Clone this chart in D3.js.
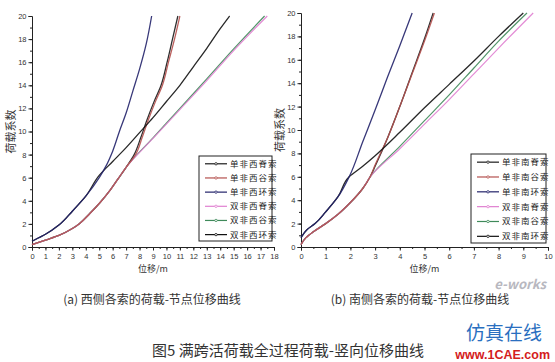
<!DOCTYPE html>
<html lang="zh">
<head>
<meta charset="UTF-8" />
<title>满跨活荷载全过程荷载-竖向位移曲线</title>
<style>
  body { margin: 0; padding: 0; background: #fff; }
  svg { display: block; font-family: "Noto Sans CJK SC", "DejaVu Sans", sans-serif; }
  .tick text { font-family: "Liberation Sans Narrow", "Liberation Sans", Arial, sans-serif; fill: #333; }
</style>
<script src="https://d3js.org/d3.v7.min.js"></script>
</head>
<body>
<svg width="555" height="362"></svg>
<script>
  // series colours, shared by both panels (legend order)
  const seriesColors = ["#1a1a1a", "#b4504e", "#22226a", "#e07fd0", "#3f8a5a", "#111111"];

  // (a) west cables
  const westNames = ["单非西脊索", "单非西谷索", "单非西环索", "双非西脊索", "双非西谷索", "双非西环索"];
  const westSpineSingle = [[0,0.2],[1,0.6],[2,1],[3,1.6],[3.5,2],[4.3,2.9],[5.1,3.9],[5.8,4.9],[6.4,5.9],[7,6.9],[7.6,8],[8.1,9.5],[8.55,11],[9.05,12.5],[9.6,14],[10.05,16],[10.45,18],[10.85,20]];
  const westValleySingle = [[0,0.2],[1,0.6],[2,1],[3,1.6],[3.5,2],[4.3,2.9],[5.1,3.9],[5.8,4.9],[6.4,5.9],[7,6.9],[7.7,8],[8.2,9.5],[8.65,11],[9.15,12.5],[9.7,14],[10.15,16],[10.6,18],[11,20]];
  const westRingSingle = [[0,0.5],[0.5,0.8],[1,1.1],[2,1.9],[3,3.1],[4,4.4],[5,6],[5.5,7],[6,8.3],[6.5,10],[7,11.6],[7.5,13.5],[8,15.4],[8.5,17.6],[8.9,20]];
  const westSpineDouble = [[0,0.2],[1,0.6],[2,1],[3,1.6],[3.5,2],[4.3,2.9],[5.1,3.9],[5.8,4.9],[6.4,5.9],[7,6.9],[9,9.4],[11,11.9],[13,14.4],[15,17],[17.5,20]];
  const westValleyDouble = [[0,0.2],[1,0.6],[2,1],[3,1.6],[3.5,2],[4.3,2.9],[5.1,3.9],[5.8,4.9],[6.4,5.9],[7,6.9],[9,9.45],[11,12],[13,14.55],[15,17.15],[17.3,20]];
  const westRingDouble = [[0,0.5],[0.5,0.8],[1,1.1],[2,1.9],[3,3.1],[4,4.4],[5,6.2],[6,7.4],[7,8.6],[8,9.9],[9,11.2],[10,12.6],[11,14],[12,15.6],[13,17.2],[14,18.9],[14.7,20]];

  // (b) south cables
  const southNames = ["单非南脊索", "单非南谷索", "单非南环索", "双非南脊索", "双非南谷索", "双非南环索"];
  const southSpineSingle = [[0,0.2],[0.2,0.8],[0.5,1.3],[1,2],[1.5,2.8],[2,3.8],[2.5,5],[2.8,6],[3,6.9],[3.5,9.3],[4,12],[4.5,14.9],[5,17.8],[5.35,20]];
  const southValleySingle = [[0,0.2],[0.2,0.8],[0.5,1.3],[1,2],[1.5,2.8],[2,3.8],[2.5,5],[2.8,6],[3,7],[3.5,9.3],[4,12],[4.5,14.8],[5,17.6],[5.4,20]];
  const southRingSingle = [[0,0.8],[0.25,1.5],[0.57,2],[1,3],[1.5,4.3],[1.95,6],[2.5,9],[3,11.7],[3.5,14.5],[4,17.2],[4.5,20]];
  const southSpineDouble = [[0,0.2],[0.2,0.8],[0.5,1.3],[1,2],[1.5,2.8],[2,3.8],[2.5,5],[2.8,6],[4,8.4],[5,10.5],[6,12.6],[7,14.8],[8,17],[9.4,20]];
  const southValleyDouble = [[0,0.2],[0.2,0.8],[0.5,1.3],[1,2],[1.5,2.8],[2,3.8],[2.5,5],[2.8,6],[4,8.6],[5,10.8],[6,13],[7,15.3],[8,17.6],[9.15,20]];
  const southRingDouble = [[0,0.8],[0.25,1.5],[0.57,2],[1,3],[1.5,4.3],[1.95,6],[2.5,6.9],[3,7.8],[4,9.8],[5,11.9],[6,13.9],[7,15.9],[8,18],[9,20]];

  const svg = d3.select("svg");

  function drawPanel(opt) {
    const x = d3.scaleLinear().domain([0, opt.xMax]).range([opt.left, opt.right]);
    const y = d3.scaleLinear().domain([0, 20]).range([247, opt.top]);
    const g = svg.append("g");

    // minor ticks
    g.append("g").attr("transform", "translate(0,247)")
      .call(d3.axisBottom(x).tickValues(d3.range(0, opt.xMax + 0.01, 0.5)).tickSize(2).tickFormat(""))
      .call(a => a.select(".domain").remove());
    g.append("g").attr("transform", `translate(${opt.left},0)`)
      .call(d3.axisLeft(y).tickValues(d3.range(0, 21, 1)).tickSize(2).tickFormat(""))
      .call(a => a.select(".domain").remove());

    // major ticks
    g.append("g").attr("transform", "translate(0,247)")
      .call(d3.axisBottom(x).tickValues(d3.range(0, opt.xMax + 1, 1)).tickSize(3.5).tickPadding(3))
      .call(a => a.selectAll("text").attr("font-size", 7.5));
    g.append("g").attr("transform", `translate(${opt.left},0)`)
      .call(d3.axisLeft(y).tickValues(d3.range(0, 21, 2)).tickSize(3.5).tickPadding(2))
      .call(a => a.selectAll("text").attr("font-size", 7.5));

    g.selectAll(".domain, .tick line").attr("stroke", "#222");

    const line = d3.line().x(d => x(d[0])).y(d => y(d[1])).curve(d3.curveMonotoneY);
    // dark spine curve first so the coloured ones stay visible on top
    const order = [0, 4, 3, 1, 5, 2];
    order.forEach(i => {
      g.append("path").datum(opt.series[i])
        .attr("fill", "none")
        .attr("stroke", seriesColors[i])
        .attr("stroke-width", i === 3 || i === 4 ? 1.2 : 1.3)
        .attr("stroke-opacity", 0.9)
        .attr("d", line);
    });

    // axis titles
    g.append("text")
      .attr("transform", `translate(${opt.left - 17},${(247 + opt.top) / 2}) rotate(-90)`)
      .attr("text-anchor", "middle").attr("font-size", 11).attr("fill", "#333")
      .text("荷载系数");
    g.append("text")
      .attr("x", (opt.left + opt.right) / 2).attr("y", 272)
      .attr("text-anchor", "middle").attr("font-size", 9).attr("fill", "#333")
      .text("位移/m");

    // legend
    const lg = g.append("g").attr("transform", `translate(${opt.legend[0]},${opt.legend[1]})`);
    lg.append("rect").attr("width", opt.legend[2]).attr("height", opt.legend[3])
      .attr("fill", "#fff").attr("stroke", "#222").attr("stroke-width", 1);
    const step = opt.legend[3] / 6;
    opt.names.forEach((n, i) => {
      const cy = step * (i + 0.55);
      lg.append("line").attr("x1", 6).attr("x2", 28).attr("y1", cy).attr("y2", cy)
        .attr("stroke", seriesColors[i]).attr("stroke-width", 1.2);
      lg.append("circle").attr("cx", 17).attr("cy", cy).attr("r", 1.2)
        .attr("fill", "#fff").attr("stroke", seriesColors[i]).attr("stroke-width", 0.8);
      lg.append("text").attr("x", 31).attr("y", cy + 3)
        .attr("font-size", 8.5).attr("letter-spacing", 1).attr("fill", "#222")
        .text(n);
    });

    svg.append("text")
      .attr("x", opt.captionX).attr("y", 304)
      .attr("text-anchor", "middle").attr("font-size", 12).attr("fill", "#333")
      .text(opt.caption);
  }

  drawPanel({
    left: 32, right: 274, top: 16, xMax: 18,
    series: [westSpineSingle, westValleySingle, westRingSingle, westSpineDouble, westValleyDouble, westRingDouble],
    names: westNames,
    legend: [199, 156, 73, 85],
    caption: "(a) 西侧各索的荷载-节点位移曲线",
    captionX: 152
  });

  drawPanel({
    left: 301, right: 548, top: 13, xMax: 10,
    series: [southSpineSingle, southValleySingle, southRingSingle, southSpineDouble, southValleyDouble, southRingDouble],
    names: southNames,
    legend: [471, 154, 75, 89],
    caption: "(b) 南侧各索的荷载-节点位移曲线",
    captionX: 420
  });

  // figure title
  svg.append("text")
    .attr("x", 288).attr("y", 356)
    .attr("text-anchor", "middle").attr("font-size", 15).attr("fill", "#333")
    .text("图5 满跨活荷载全过程荷载-竖向位移曲线");

  // watermarks
  svg.append("text").attr("x", 546).attr("y", 289).attr("text-anchor", "end")
    .attr("font-size", 13).attr("font-weight", "bold").attr("font-style", "italic")
    .attr("fill", "#b8b8c0").text("e-works");
  svg.append("text").attr("x", 542).attr("y", 340).attr("text-anchor", "end")
    .attr("font-size", 19).attr("fill", "#2a6fc0").text("仿真在线");
  svg.append("text").attr("x", 550).attr("y", 359).attr("text-anchor", "end")
    .attr("font-size", 12.5).attr("font-weight", "bold").attr("font-family", "Liberation Sans, Arial, sans-serif")
    .attr("fill", "#d4201c").text("www.1CAE.com");
</script>
</body>
</html>
